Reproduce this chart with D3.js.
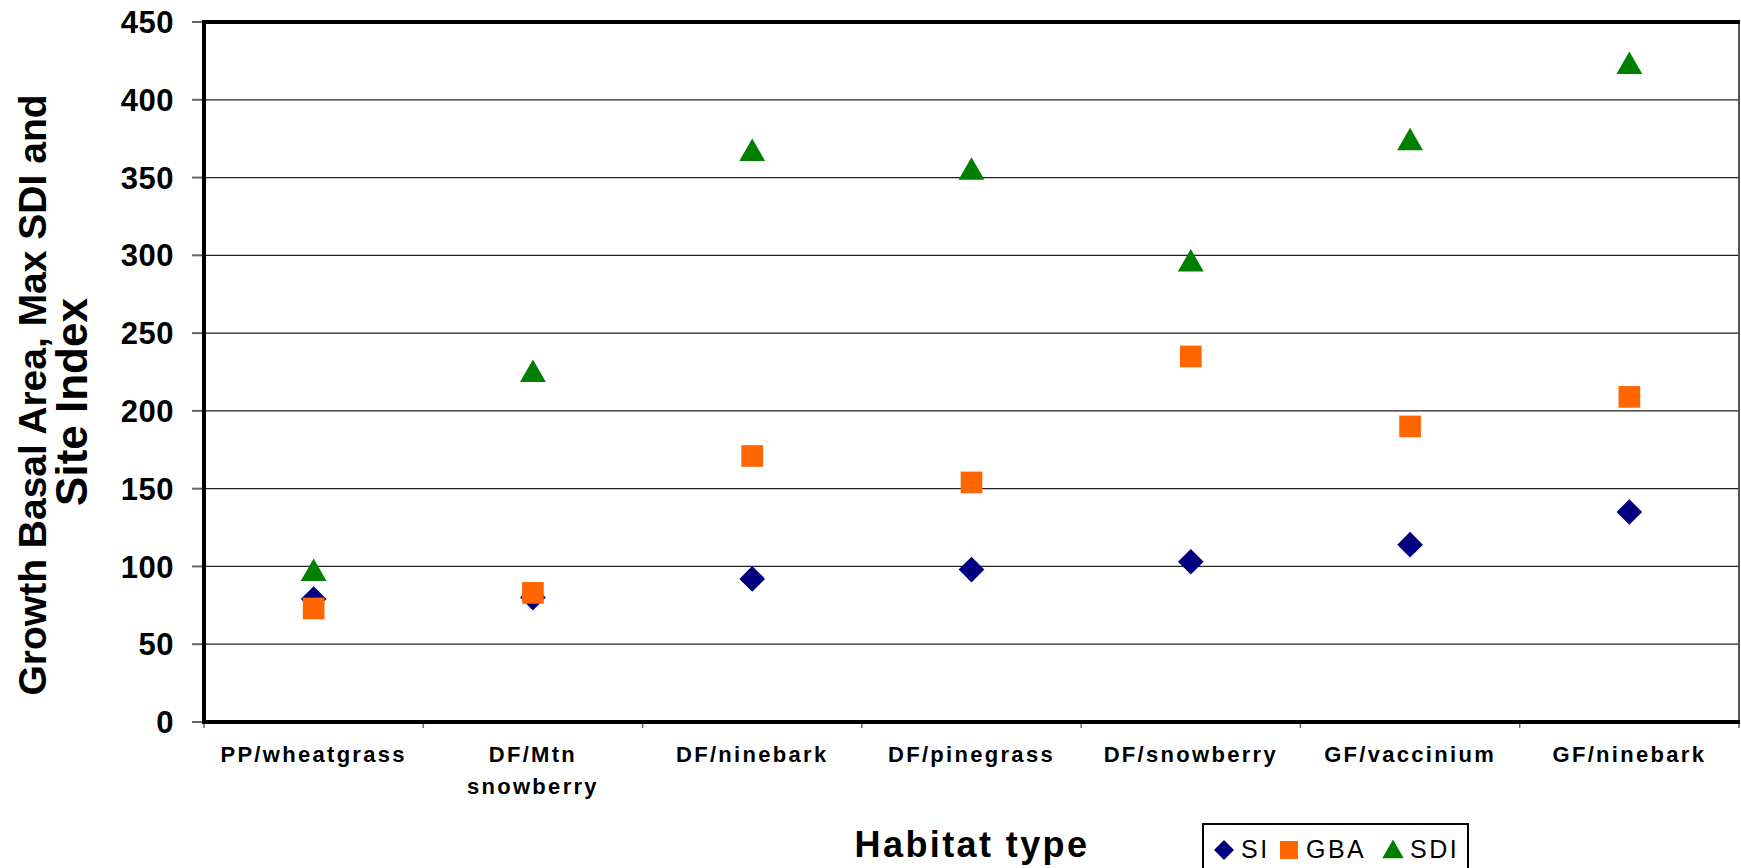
<!DOCTYPE html>
<html>
<head>
<meta charset="utf-8">
<script src="https://cdn.jsdelivr.net/npm/d3@7/dist/d3.min.js"></script>
<style>
  html, body { margin: 0; padding: 0; background: #fff; }
  svg { display: block; }
  text { font-family: "Liberation Sans", Arial, sans-serif; }
</style>
</head>
<body>
<svg id="chart" width="1741" height="868"></svg>
<script>
const categories = [
  ["PP/wheatgrass"],
  ["DF/Mtn", "snowberry"],
  ["DF/ninebark"],
  ["DF/pinegrass"],
  ["DF/snowberry"],
  ["GF/vaccinium"],
  ["GF/ninebark"]
];
const siValues  = [79, 80, 92, 98, 103, 114, 135];
const gbaValues = [73, 83, 171, 154, 235, 190, 209];
const sdiValues = [98, 226, 368, 356, 297, 375, 424];
const yTicks = [0, 50, 100, 150, 200, 250, 300, 350, 400, 450];
const seriesNames = ["SI", "GBA", "SDI"];
const yTitle = ["Growth Basal Area, Max SDI and", "Site Index"];
const xTitle = "Habitat type";

(function () {
const colors = { SI: "#000080", GBA: "#FF6600", SDI: "#008000" };

const svg = d3.select("#chart");
const pL = 204, pR = 1739, pT = 22, pB = 722;

const x = d3.scaleBand().domain(d3.range(categories.length)).range([pL, pR]).padding(0);
const y = d3.scaleLinear().domain([0, 450]).range([pB, pT]);

// gridlines
svg.append("g").selectAll("line").data(yTicks.filter(d => d > 0 && d < 450)).join("line")
  .attr("x1", pL).attr("x2", pR)
  .attr("y1", d => y(d)).attr("y2", d => y(d))
  .attr("stroke", "#222").attr("stroke-width", 1.3);

// y tick marks
svg.append("g").selectAll("line").data(yTicks).join("line")
  .attr("x1", pL - 12).attr("x2", pL)
  .attr("y1", d => y(d)).attr("y2", d => y(d))
  .attr("stroke", "#666").attr("stroke-width", 2);

// y tick labels
svg.append("g").selectAll("text").data(yTicks).join("text")
  .attr("x", 174).attr("y", d => y(d))
  .attr("dy", "0.36em")
  .attr("text-anchor", "end")
  .attr("font-weight", "bold").attr("font-size", 31)
  .attr("letter-spacing", 0.5)
  .text(d => d);

// x tick marks (category boundaries)
const bounds = d3.range(categories.length + 1).map(i => pL + i * x.bandwidth());
svg.append("g").selectAll("line").data(bounds).join("line")
  .attr("x1", d => d).attr("x2", d => d)
  .attr("y1", pB).attr("y2", pB + 6)
  .attr("stroke", "#666").attr("stroke-width", 1.5);

// frame: right (thin) and top (thick)
svg.append("line").attr("x1", pR).attr("x2", pR).attr("y1", pT).attr("y2", pB)
  .attr("stroke", "#555").attr("stroke-width", 2);
svg.append("line").attr("x1", pL - 2).attr("x2", pR + 1).attr("y1", pT).attr("y2", pT)
  .attr("stroke", "#000").attr("stroke-width", 4);
// axes thick
svg.append("line").attr("x1", pL).attr("x2", pL).attr("y1", pT - 2).attr("y2", pB + 2)
  .attr("stroke", "#000").attr("stroke-width", 4);
svg.append("line").attr("x1", pL - 2).attr("x2", pR + 1).attr("y1", pB).attr("y2", pB)
  .attr("stroke", "#000").attr("stroke-width", 4);

// x category labels
const xl = svg.append("g").selectAll("text").data(categories).join("text")
  .attr("text-anchor", "middle")
  .attr("font-weight", "bold").attr("font-size", 22)
  .attr("letter-spacing", 2.3);
xl.each(function(d, i) {
  const t = d3.select(this);
  d.forEach((line, j) => {
    t.append("tspan")
      .attr("x", x(i) + x.bandwidth() / 2)
      .attr("y", 762 + j * 32)
      .text(line);
  });
});

// y title
const yt = svg.append("text")
  .attr("transform", "translate(0,395) rotate(-90)")
  .attr("text-anchor", "middle")
  .attr("font-weight", "bold");
const yTitleSizes = [39, 44];
const yTitleBase = [46, 87];
const yTitleShift = [0, -7];
yTitle.forEach((line, j) => {
  yt.append("tspan")
    .attr("x", yTitleShift[j]).attr("y", yTitleBase[j])
    .attr("font-size", yTitleSizes[j])
    .text(line);
});

// x title
svg.append("text")
  .attr("x", 972).attr("y", 857)
  .attr("text-anchor", "middle")
  .attr("font-weight", "bold").attr("font-size", 36)
  .attr("letter-spacing", 2.4)
  .text(xTitle);

// markers
const diamond = d3.symbol().type(d3.symbolSquare).size(330);
const square = d3.symbol().type(d3.symbolSquare).size(470);
const triangle = d3.symbol().type(d3.symbolTriangle).size(290);

const cx = i => x(i) + x.bandwidth() / 2;

svg.append("g").selectAll("path").data(siValues).join("path")
  .attr("d", diamond)
  .attr("transform", (d, i) => `translate(${cx(i)},${y(d)}) rotate(45)`)
  .attr("fill", colors.SI);
svg.append("g").selectAll("path").data(gbaValues).join("path")
  .attr("d", square)
  .attr("transform", (d, i) => `translate(${cx(i)},${y(d)})`)
  .attr("fill", colors.GBA);
svg.append("g").selectAll("path").data(sdiValues).join("path")
  .attr("d", triangle)
  .attr("transform", (d, i) => `translate(${cx(i)},${y(d) + 4})`)
  .attr("fill", colors.SDI);

// legend
const lg = svg.append("g");
lg.append("rect").attr("x", 1203).attr("y", 824).attr("width", 265).attr("height", 60)
  .attr("fill", "#fff").attr("stroke", "#000").attr("stroke-width", 2);
const legendItems = [
  { name: seriesNames[0], sym: d3.symbol().type(d3.symbolSquare).size(200), mx: 1224, my: 850, rot: 45, tx: 1241 },
  { name: seriesNames[1], sym: d3.symbol().type(d3.symbolSquare).size(324), mx: 1289, my: 850, rot: 0, tx: 1306 },
  { name: seriesNames[2], sym: d3.symbol().type(d3.symbolTriangle).size(200), mx: 1393, my: 852, rot: 0, tx: 1410 }
];
legendItems.forEach(it => {
  lg.append("path").attr("d", it.sym)
    .attr("transform", `translate(${it.mx},${it.my}) rotate(${it.rot})`)
    .attr("fill", colors[it.name]);
  lg.append("text").attr("x", it.tx).attr("y", 858)
    .attr("font-size", 25).attr("letter-spacing", 2.5)
    .text(it.name);
});
})();
</script>
</body>
</html>
